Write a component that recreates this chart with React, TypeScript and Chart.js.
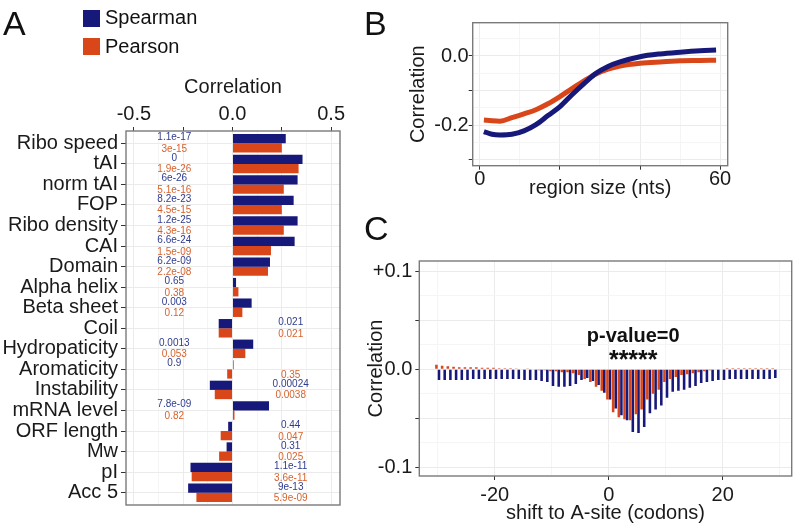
import React, { useEffect, useRef } from "react";
import { Chart, registerables } from "chart.js";
Chart.register(...registerables);

const FONT = "'Liberation Sans', Arial, Helvetica, sans-serif";
const NAVY = "#17197A";
const ORANGE = "#D8461A";
const NAVY_TXT = "#2F3C8E";
const ORANGE_TXT = "#D6622C";
const GRID_MAJOR = "#EBEBEB";
const GRID_MINOR = "#F5F5F5";
const TXT = "#1a1a1a";

// ---------- Panel A data ----------
const featureNames = ["Ribo speed", "tAI", "norm tAI", "FOP", "Ribo density", "CAI", "Domain", "Alpha helix", "Beta sheet", "Coil", "Hydropaticity", "Aromaticity", "Instability", "mRNA level", "ORF length", "Mw", "pI", "Acc 5"];
const spearmanCorr = [0.27, 0.355, 0.33, 0.31, 0.33, 0.315, 0.19, 0.018, 0.097, -0.07, 0.105, 0.005, -0.115, 0.185, -0.022, -0.03, -0.213, -0.225];
const pearsonCorr = [0.25, 0.335, 0.26, 0.25, 0.26, 0.195, 0.18, 0.03, 0.05, -0.07, 0.065, -0.027, -0.09, 0.01, -0.06, -0.068, -0.207, -0.183];
const spearmanPval = ["1.1e-17", "0", "6e-26", "8.2e-23", "1.2e-25", "6.6e-24", "6.2e-09", "0.65", "0.003", "0.021", "0.0013", "0.9", "0.00024", "7.8e-09", "0.44", "0.31", "1.1e-11", "9e-13"];
const pearsonPval = ["3e-15", "1.9e-26", "5.1e-16", "4.5e-15", "4.3e-16", "1.5e-09", "2.2e-08", "0.38", "0.12", "0.021", "0.053", "0.35", "0.0038", "0.82", "0.047", "0.025", "3.6e-11", "5.9e-09"];
const pvalTextX = 0.295;
const corrMajorA = [-0.5, -0.25, 0, 0.25, 0.5];
const corrMinorA = [-0.375, -0.125, 0.125, 0.375];
const corrLabelledA = [-0.5, 0, 0.5];

// ---------- Panel B data ----------
const regionSize = [1, 3, 5, 8, 11, 14, 17, 20, 23, 26, 29, 32, 35, 40, 45, 50, 55, 59];
const regionSpearman = [-0.218, -0.226, -0.228, -0.226, -0.216, -0.198, -0.172, -0.146, -0.112, -0.08, -0.05, -0.03, -0.017, -0.002, 0.006, 0.011, 0.015, 0.017];
const regionPearson = [-0.185, -0.187, -0.188, -0.178, -0.167, -0.155, -0.138, -0.117, -0.094, -0.072, -0.052, -0.038, -0.029, -0.021, -0.017, -0.014, -0.013, -0.012];
const sizeMajorB = [0, 20, 40, 60];
const sizeMinorB = [10, 30, 50];
const sizeLabelledB = [0, 60];
const corrMajorB = [-0.3, -0.2, -0.1, 0];
const corrMinorB = [-0.25, -0.15, -0.05, 0.05];
const corrLabelledB = [-0.2, 0];

// ---------- Panel C data ----------
const shifts = [-30, -29, -28, -27, -26, -25, -24, -23, -22, -21, -20, -19, -18, -17, -16, -15, -14, -13, -12, -11, -10, -9, -8, -7, -6, -5, -4, -3, -2, -1, 0, 1, 2, 3, 4, 5, 6, 7, 8, 9, 10, 11, 12, 13, 14, 15, 16, 17, 18, 19, 20, 21, 22, 23, 24, 25, 26, 27, 28, 29];
const shiftSpearman = [-0.011, -0.011, -0.011, -0.011, -0.011, -0.011, -0.01, -0.01, -0.01, -0.01, -0.01, -0.01, -0.01, -0.01, -0.01, -0.011, -0.011, -0.011, -0.012, -0.013, -0.017, -0.018, -0.018, -0.017, -0.015, -0.011, -0.009, -0.012, -0.016, -0.024, -0.031, -0.04, -0.047, -0.052, -0.064, -0.065, -0.059, -0.045, -0.041, -0.037, -0.029, -0.023, -0.022, -0.021, -0.019, -0.017, -0.014, -0.013, -0.012, -0.011, -0.011, -0.01, -0.01, -0.01, -0.01, -0.01, -0.01, -0.01, -0.01, -0.009];
const shiftPearson = [0.0045, 0.0035, 0.003, 0.0025, 0.002, 0.002, 0.002, 0.002, 0.0015, 0.0015, 0.0015, 0.001, 0.001, 0.001, 0.0008, 0.0005, 0.0003, 0, -0.001, -0.001, -0.002, -0.002, -0.003, -0.003, -0.004, -0.006, -0.01, -0.013, -0.018, -0.022, -0.031, -0.044, -0.049, -0.051, -0.052, -0.046, -0.041, -0.031, -0.025, -0.021, -0.013, -0.01, -0.008, -0.006, -0.005, -0.004, -0.003, -0.002, -0.001, 0, 0.0005, 0.001, 0.001, 0.001, 0.001, 0.001, 0.001, 0.001, 0.001, 0.001];
const shiftMajorC = [-20, 0, 20];
const shiftMinorC = [-30, -10, 10, 30];
const corrMajorC = [-0.1, -0.05, 0, 0.05, 0.1];
const corrMinorC = [-0.075, -0.025, 0.025, 0.075];
const corrLabelsC: Record<string, string> = { "-0.1": "-0.1", "0": "0.0", "0.1": "+0.1" };
const pValueText = "p-value=0";
const starsText = "*****";
const annotX = 4.3;
const pValueBaselineY = 0.028;
const starsBaselineY = 0.001;

const key = (v: number) => Math.round(v * 10000);

function linAxis(o: any) {
  const all = [...o.major, ...o.minor].sort((a: number, b: number) => a - b);
  const majorSet = new Set(o.major.map(key));
  const labSet = new Set((o.labelled || o.major).map(key));
  const horizontal = o.position === "top" || o.position === "bottom";
  const isMajor = (c: any) => c && c.tick && majorSet.has(key(c.tick.value));
  return {
    type: "linear",
    position: o.position,
    min: o.min,
    max: o.max,
    reverse: !!o.reverse,
    offset: false,
    afterBuildTicks: (s: any) => {
      s.ticks = all.map((v: number) => ({ value: v }));
    },
    afterFit: (s: any) => {
      if (horizontal) s.height = o.fit;
      else s.width = o.fit;
    },
    ticks: {
      autoSkip: false,
      maxRotation: 0,
      minRotation: 0,
      padding: o.pad,
      color: TXT,
      font: { family: FONT, size: 20, lineHeight: 1 },
      callback: (v: number) => (labSet.has(key(v)) ? o.fmt(v) : ""),
    },
    grid: {
      offset: false,
      color: (c: any) => (isMajor(c) ? GRID_MAJOR : GRID_MINOR),
      tickColor: (c: any) => (isMajor(c) ? "#333333" : "rgba(0,0,0,0)"),
      tickLength: o.tl,
      lineWidth: 1,
    },
    border: { display: false },
    title: o.title
      ? { display: true, text: o.title, color: TXT, font: { family: FONT, size: 20 }, padding: { top: 4, bottom: o.titlePadBottom ?? 0 } }
      : { display: false },
  };
}

const boxPlugin = {
  id: "panelBox",
  afterDraw(chart: any) {
    const { ctx, chartArea } = chart;
    ctx.save();
    ctx.strokeStyle = "#7a7a7a";
    ctx.lineWidth = 1.4;
    ctx.strokeRect(chartArea.left, chartArea.top, chartArea.right - chartArea.left, chartArea.bottom - chartArea.top);
    ctx.restore();
  },
};

const pvalPlugin = {
  id: "pvals",
  afterDatasetsDraw(chart: any) {
    const { ctx } = chart;
    const xs = chart.scales.x;
    const ys = chart.scales.y;
    ctx.save();
    ctx.font = `10px ${FONT}`;
    ctx.textAlign = "center";
    ctx.textBaseline = "middle";
    featureNames.forEach((_, i) => {
      const rows: [number, string, string, number][] = [
        [spearmanCorr[i], spearmanPval[i], NAVY_TXT, -0.28],
        [pearsonCorr[i], pearsonPval[i], ORANGE_TXT, 0.28],
      ];
      rows.forEach(([v, p, col, dy]) => {
        ctx.fillStyle = col;
        const px = xs.getPixelForValue(v >= 0 ? -pvalTextX : pvalTextX);
        const py = ys.getPixelForValue(i + dy);
        ctx.fillText(p, px, py);
      });
    });
    ctx.restore();
  },
};

const annotPlugin = {
  id: "annotC",
  afterDatasetsDraw(chart: any) {
    const { ctx } = chart;
    const xs = chart.scales.x;
    const ys = chart.scales.y;
    ctx.save();
    ctx.fillStyle = "#111";
    ctx.textAlign = "center";
    ctx.textBaseline = "alphabetic";
    ctx.font = `bold 20px ${FONT}`;
    ctx.fillText(pValueText, xs.getPixelForValue(annotX), ys.getPixelForValue(pValueBaselineY));
    ctx.font = `bold 25px ${FONT}`;
    ctx.fillText(starsText, xs.getPixelForValue(annotX), ys.getPixelForValue(starsBaselineY));
    ctx.restore();
  },
};

function makeA(canvas: HTMLCanvasElement) {
  return new Chart(canvas, {
    type: "bar",
    data: {
      datasets: [
        { label: "Spearman", data: spearmanCorr.map((v, i) => ({ x: v, y: i })), backgroundColor: NAVY, categoryPercentage: 0.9, barPercentage: 1 },
        { label: "Pearson", data: pearsonCorr.map((v, i) => ({ x: v, y: i })), backgroundColor: ORANGE, categoryPercentage: 0.9, barPercentage: 1 },
      ],
    } as any,
    options: {
      indexAxis: "y",
      animation: false,
      responsive: false,
      events: [],
      layout: { padding: { left: 0, right: 30, top: 71, bottom: 22 } },
      plugins: { legend: { display: false }, tooltip: { enabled: false } },
      scales: {
        x: linAxis({ position: "top", min: -0.54, max: 0.545, major: corrMajorA, minor: corrMinorA, labelled: corrLabelledA, fmt: (v: number) => v.toFixed(1), tl: 4, pad: 3, fit: 60, title: "Correlation" }),
        y: linAxis({ position: "left", min: -0.6, max: 17.6, reverse: true, major: featureNames.map((_, i) => i), minor: [], fmt: (v: number) => featureNames[Math.round(v)], tl: 5, pad: 3, fit: 126 }),
      },
    } as any,
    plugins: [boxPlugin, pvalPlugin],
  });
}

function makeB(canvas: HTMLCanvasElement) {
  return new Chart(canvas, {
    type: "line",
    data: {
      datasets: [
        { label: "Spearman", data: regionSize.map((x, i) => ({ x, y: regionSpearman[i] })), borderColor: NAVY, borderWidth: 5, pointRadius: 0, cubicInterpolationMode: "monotone", fill: false },
        { label: "Pearson", data: regionSize.map((x, i) => ({ x, y: regionPearson[i] })), borderColor: ORANGE, borderWidth: 5, pointRadius: 0, cubicInterpolationMode: "monotone", fill: false },
      ],
    } as any,
    options: {
      animation: false,
      responsive: false,
      events: [],
      layout: { padding: { left: 22, right: 65.3, top: 22.7, bottom: 0 } },
      plugins: { legend: { display: false }, tooltip: { enabled: false } },
      scales: {
        x: linAxis({ position: "bottom", min: -1.8, max: 61.9, major: sizeMajorB, minor: sizeMinorB, labelled: sizeLabelledB, fmt: (v: number) => String(v), tl: 4, pad: 0, fit: 34.3, title: "region size (nts)", titlePadBottom: 0 }),
        y: linAxis({ position: "left", min: -0.3166, max: 0.0961, major: corrMajorB, minor: corrMinorB, labelled: corrLabelledB, fmt: (v: number) => v.toFixed(1), tl: 4, pad: 0, fit: 70.7, title: "Correlation" }),
      },
    } as any,
    plugins: [boxPlugin],
  });
}

function makeC(canvas: HTMLCanvasElement) {
  return new Chart(canvas, {
    type: "bar",
    data: {
      datasets: [
        { label: "Pearson", data: shifts.map((x, i) => ({ x, y: shiftPearson[i] })), backgroundColor: ORANGE, categoryPercentage: 0.9, barPercentage: 1 },
        { label: "Spearman", data: shifts.map((x, i) => ({ x, y: shiftSpearman[i] })), backgroundColor: NAVY, categoryPercentage: 0.9, barPercentage: 1 },
      ],
    } as any,
    options: {
      animation: false,
      responsive: false,
      events: [],
      layout: { padding: { left: 0, right: 1.3, top: 31, bottom: 0 } },
      plugins: { legend: { display: false }, tooltip: { enabled: false } },
      scales: {
        x: linAxis({ position: "bottom", min: -33.23, max: 32.1, major: shiftMajorC, minor: shiftMinorC, fmt: (v: number) => String(v), tl: 4, pad: 5, fit: 51, title: "shift to A-site (codons)", titlePadBottom: 2 }),
        y: linAxis({ position: "left", min: -0.109, max: 0.1105, major: corrMajorC, minor: corrMinorC, labelled: [-0.1, 0, 0.1], fmt: (v: number) => corrLabelsC[String(Math.round(v * 10) / 10)] ?? "", tl: 4, pad: 3, fit: 59.3, title: "Correlation" }),
      },
    } as any,
    plugins: [boxPlugin, annotPlugin],
  });
}

const letterStyle: React.CSSProperties = { position: "absolute", fontSize: 34, lineHeight: "34px", color: "#111" };
const legendText: React.CSSProperties = { position: "absolute", left: 105, fontSize: 20, lineHeight: "20px", color: "#111" };

export default function App() {
  const refA = useRef<HTMLCanvasElement>(null);
  const refB = useRef<HTMLCanvasElement>(null);
  const refC = useRef<HTMLCanvasElement>(null);
  useEffect(() => {
    const charts = [makeA(refA.current!), makeB(refB.current!), makeC(refC.current!)];
    return () => charts.forEach((c) => c.destroy());
  }, []);
  return (
    <div style={{ position: "absolute", left: 0, top: 0, width: 793, height: 527, background: "#fff", overflow: "hidden", fontFamily: FONT }}>
      <canvas ref={refA} width={370} height={527} style={{ position: "absolute", left: 0, top: 0 }} />
      <canvas ref={refB} width={413} height={200} style={{ position: "absolute", left: 380, top: 0 }} />
      <canvas ref={refC} width={433} height={297} style={{ position: "absolute", left: 360, top: 230 }} />
      <div style={{ ...letterStyle, left: 3, top: 6 }}>A</div>
      <div style={{ ...letterStyle, left: 364, top: 6 }}>B</div>
      <div style={{ ...letterStyle, left: 364, top: 211 }}>C</div>
      <div style={{ position: "absolute", left: 83, top: 10, width: 17, height: 17, background: NAVY }} />
      <div style={{ position: "absolute", left: 83, top: 38, width: 17, height: 17, background: ORANGE }} />
      <div style={{ ...legendText, top: 7 }}>Spearman</div>
      <div style={{ ...legendText, top: 36 }}>Pearson</div>
    </div>
  );
}
